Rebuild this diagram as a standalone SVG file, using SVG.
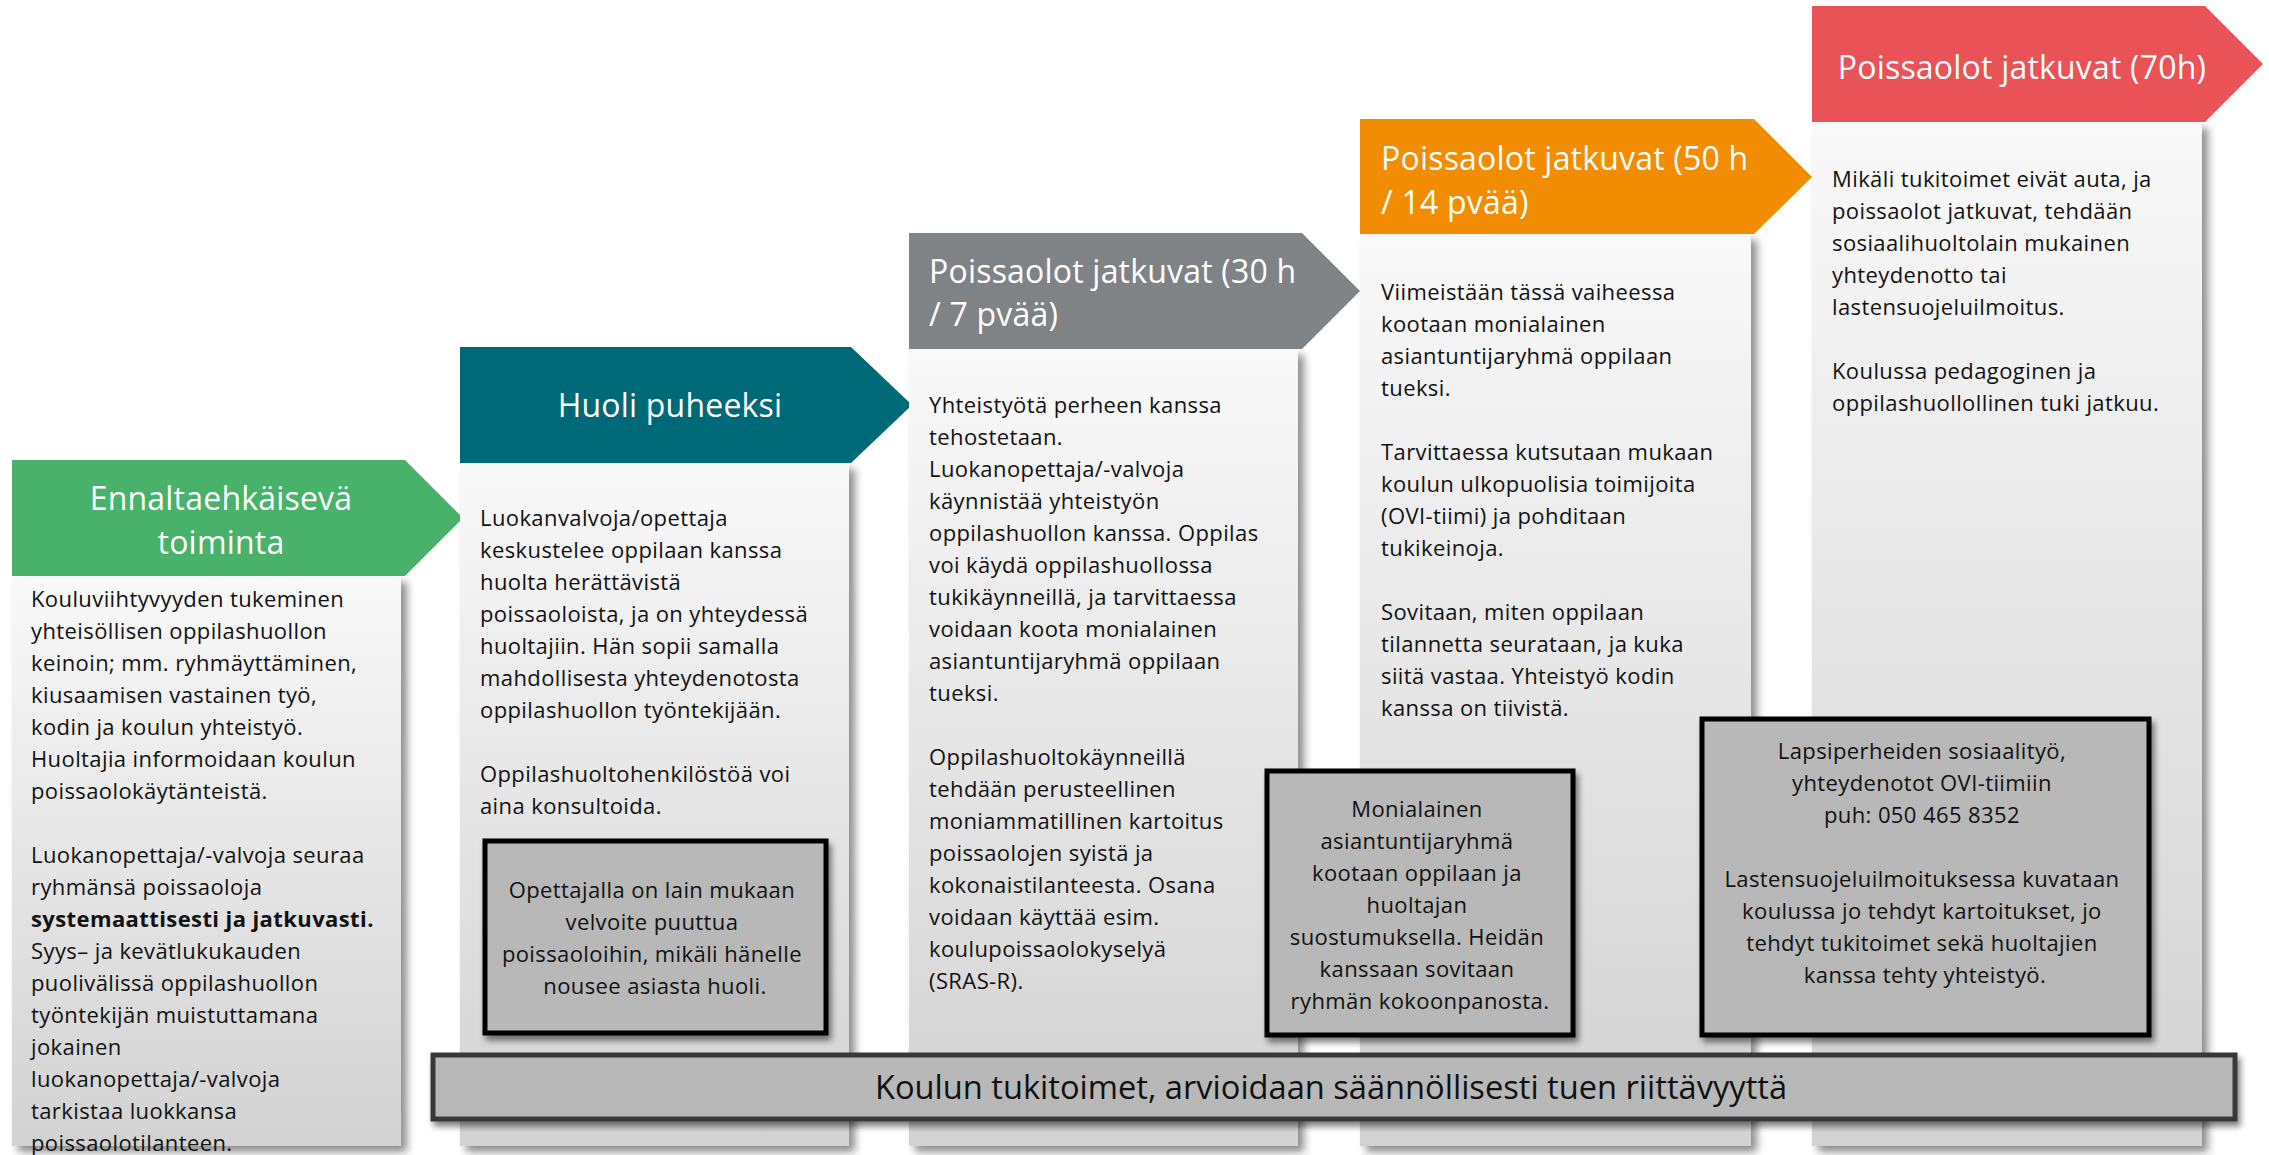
<svg xmlns="http://www.w3.org/2000/svg" width="2269" height="1155" viewBox="0 0 2269 1155">
<defs>
<linearGradient id="bodyGrad" x1="0" y1="0" x2="0" y2="1">
<stop offset="0" stop-color="#f9f9f9"/>
<stop offset="1" stop-color="#d2d2d2"/>
</linearGradient>
<filter id="sh" x="-10%" y="-5%" width="125%" height="115%">
<feGaussianBlur in="SourceAlpha" stdDeviation="4"/>
<feOffset dx="6" dy="6" result="b"/>
<feComponentTransfer><feFuncA type="linear" slope="0.45"/></feComponentTransfer>
<feMerge><feMergeNode/><feMergeNode in="SourceGraphic"/></feMerge>
</filter>
<filter id="sh2" x="-10%" y="-10%" width="125%" height="130%">
<feGaussianBlur in="SourceAlpha" stdDeviation="3"/>
<feOffset dx="3" dy="5" result="b"/>
<feComponentTransfer><feFuncA type="linear" slope="0.5"/></feComponentTransfer>
<feMerge><feMergeNode/><feMergeNode in="SourceGraphic"/></feMerge>
</filter>
</defs>
<style>
.body{fill:url(#bodyGrad);filter:url(#sh)}
.hd{font-family:"Open Sans","DejaVu Sans",sans-serif;font-size:32px;letter-spacing:0.2px;fill:#ffffff}
.tx{font-family:"Open Sans","DejaVu Sans",sans-serif;font-size:22px;letter-spacing:0.4px;fill:#111111}
.bx{fill:#b8b8b8;stroke:#000000;stroke-width:5;filter:url(#sh2)}
.c{text-anchor:middle}
.b{font-weight:bold}
</style>
<rect width="2269" height="1155" fill="#ffffff"/>

<g id="node-ennalta">
<rect class="body" x="12" y="576" width="389" height="570"/>
<polygon points="12,460 405,460 463,518 405,576 12,576" fill="#48b26b"/>
<text class="hd c" x="221" y="510">Ennaltaehkäisevä</text>
<text class="hd c" x="221" y="554">toiminta</text>
<text class="tx" x="31">
<tspan x="31" y="607">Kouluviihtyvyyden tukeminen</tspan>
<tspan x="31" y="639">yhteisöllisen oppilashuollon</tspan>
<tspan x="31" y="671">keinoin; mm. ryhmäyttäminen,</tspan>
<tspan x="31" y="703">kiusaamisen vastainen työ,</tspan>
<tspan x="31" y="735">kodin ja koulun yhteistyö.</tspan>
<tspan x="31" y="767">Huoltajia informoidaan koulun</tspan>
<tspan x="31" y="799">poissaolokäytänteistä.</tspan>
<tspan x="31" y="863">Luokanopettaja/-valvoja seuraa</tspan>
<tspan x="31" y="895">ryhmänsä poissaoloja</tspan>
<tspan x="31" y="927" class="b">systemaattisesti ja jatkuvasti.</tspan>
<tspan x="31" y="959">Syys– ja kevätlukukauden</tspan>
<tspan x="31" y="991">puolivälissä oppilashuollon</tspan>
<tspan x="31" y="1023">työntekijän muistuttamana</tspan>
<tspan x="31" y="1055">jokainen</tspan>
<tspan x="31" y="1087">luokanopettaja/-valvoja</tspan>
<tspan x="31" y="1119">tarkistaa luokkansa</tspan>
<tspan x="31" y="1151">poissaolotilanteen.</tspan>
</text>
</g>

<g id="node-huoli">
<rect class="body" x="460" y="463" width="389" height="683"/>
<polygon points="460,347 851,347 912,405 851,463 460,463" fill="#006978"/>
<text class="hd c" x="670" y="417">Huoli puheeksi</text>
<text class="tx">
<tspan x="480" y="526">Luokanvalvoja/opettaja</tspan>
<tspan x="480" y="558">keskustelee oppilaan kanssa</tspan>
<tspan x="480" y="590">huolta herättävistä</tspan>
<tspan x="480" y="622">poissaoloista, ja on yhteydessä</tspan>
<tspan x="480" y="654">huoltajiin. Hän sopii samalla</tspan>
<tspan x="480" y="686">mahdollisesta yhteydenotosta</tspan>
<tspan x="480" y="718">oppilashuollon työntekijään.</tspan>
<tspan x="480" y="782">Oppilashuoltohenkilöstöä voi</tspan>
<tspan x="480" y="814">aina konsultoida.</tspan>
</text>
</g>

<g id="node-30h">
<rect class="body" x="909" y="349" width="389" height="797"/>
<polygon points="909,233 1302,233 1360,291 1302,349 909,349" fill="#7f8386"/>
<text class="hd" x="929" y="283">Poissaolot jatkuvat (30 h</text>
<text class="hd" x="929" y="326">/ 7 pvää)</text>
<text class="tx">
<tspan x="929" y="413">Yhteistyötä perheen kanssa</tspan>
<tspan x="929" y="445">tehostetaan.</tspan>
<tspan x="929" y="477">Luokanopettaja/-valvoja</tspan>
<tspan x="929" y="509">käynnistää yhteistyön</tspan>
<tspan x="929" y="541">oppilashuollon kanssa. Oppilas</tspan>
<tspan x="929" y="573">voi käydä oppilashuollossa</tspan>
<tspan x="929" y="605">tukikäynneillä, ja tarvittaessa</tspan>
<tspan x="929" y="637">voidaan koota monialainen</tspan>
<tspan x="929" y="669">asiantuntijaryhmä oppilaan</tspan>
<tspan x="929" y="701">tueksi.</tspan>
<tspan x="929" y="765">Oppilashuoltokäynneillä</tspan>
<tspan x="929" y="797">tehdään perusteellinen</tspan>
<tspan x="929" y="829">moniammatillinen kartoitus</tspan>
<tspan x="929" y="861">poissaolojen syistä ja</tspan>
<tspan x="929" y="893">kokonaistilanteesta. Osana</tspan>
<tspan x="929" y="925">voidaan käyttää esim.</tspan>
<tspan x="929" y="957">koulupoissaolokyselyä</tspan>
<tspan x="929" y="989">(SRAS-R).</tspan>
</text>
</g>

<g id="node-50h">
<rect class="body" x="1360" y="234" width="391" height="912"/>
<polygon points="1360,119 1754,119 1812,177 1754,234 1360,234" fill="#f28c00"/>
<text class="hd" x="1381" y="170">Poissaolot jatkuvat (50 h</text>
<text class="hd" x="1381" y="214">/ 14 pvää)</text>
<text class="tx">
<tspan x="1381" y="300">Viimeistään tässä vaiheessa</tspan>
<tspan x="1381" y="332">kootaan monialainen</tspan>
<tspan x="1381" y="364">asiantuntijaryhmä oppilaan</tspan>
<tspan x="1381" y="396">tueksi.</tspan>
<tspan x="1381" y="460">Tarvittaessa kutsutaan mukaan</tspan>
<tspan x="1381" y="492">koulun ulkopuolisia toimijoita</tspan>
<tspan x="1381" y="524">(OVI-tiimi) ja pohditaan</tspan>
<tspan x="1381" y="556">tukikeinoja.</tspan>
<tspan x="1381" y="620">Sovitaan, miten oppilaan</tspan>
<tspan x="1381" y="652">tilannetta seurataan, ja kuka</tspan>
<tspan x="1381" y="684">siitä vastaa. Yhteistyö kodin</tspan>
<tspan x="1381" y="716">kanssa on tiivistä.</tspan>
</text>
</g>

<g id="node-70h">
<rect class="body" x="1812" y="122" width="390" height="1024"/>
<polygon points="1812,6 2205,6 2263,64 2205,122 1812,122" fill="#e95257"/>
<text class="hd c" x="2022" y="79">Poissaolot jatkuvat (70h)</text>
<text class="tx">
<tspan x="1832" y="187">Mikäli tukitoimet eivät auta, ja</tspan>
<tspan x="1832" y="219">poissaolot jatkuvat, tehdään</tspan>
<tspan x="1832" y="251">sosiaalihuoltolain mukainen</tspan>
<tspan x="1832" y="283">yhteydenotto tai</tspan>
<tspan x="1832" y="315">lastensuojeluilmoitus.</tspan>
<tspan x="1832" y="379">Koulussa pedagoginen ja</tspan>
<tspan x="1832" y="411">oppilashuollollinen tuki jatkuu.</tspan>
</text>
</g>

<g id="node-box-opettaja">
<rect class="bx" x="485" y="841" width="341" height="192"/>
<text class="tx c">
<tspan x="655" y="898">Opettajalla on lain mukaan</tspan>
<tspan x="655" y="930">velvoite puuttua</tspan>
<tspan x="655" y="962">poissaoloihin, mikäli hänelle</tspan>
<tspan x="655" y="994">nousee asiasta huoli.</tspan>
</text>
</g>

<g id="node-box-monialainen">
<rect class="bx" x="1267" y="771" width="306" height="264"/>
<text class="tx c">
<tspan x="1420" y="817">Monialainen</tspan>
<tspan x="1420" y="849">asiantuntijaryhmä</tspan>
<tspan x="1420" y="881">kootaan oppilaan ja</tspan>
<tspan x="1420" y="913">huoltajan</tspan>
<tspan x="1420" y="945">suostumuksella. Heidän</tspan>
<tspan x="1420" y="977">kanssaan sovitaan</tspan>
<tspan x="1420" y="1009">ryhmän kokoonpanosta.</tspan>
</text>
</g>

<g id="node-box-lapsiperheet">
<rect class="bx" x="1702" y="719" width="447" height="316"/>
<text class="tx c">
<tspan x="1925" y="759">Lapsiperheiden sosiaalityö,</tspan>
<tspan x="1925" y="791">yhteydenotot OVI-tiimiin</tspan>
<tspan x="1925" y="823">puh: 050 465 8352</tspan>
<tspan x="1925" y="887">Lastensuojeluilmoituksessa kuvataan</tspan>
<tspan x="1925" y="919">koulussa jo tehdyt kartoitukset, jo</tspan>
<tspan x="1925" y="951">tehdyt tukitoimet sekä huoltajien</tspan>
<tspan x="1925" y="983">kanssa tehty yhteistyö.</tspan>
</text>
</g>

<g id="node-bar">
<rect x="433" y="1055" width="1802" height="64" fill="#b8b8b8" stroke="#383838" stroke-width="5" filter="url(#sh2)"/>
<text x="1331" y="1099" text-anchor="middle" font-family="'Open Sans','DejaVu Sans',sans-serif" font-size="32" fill="#111111" textLength="912" lengthAdjust="spacingAndGlyphs">Koulun tukitoimet, arvioidaan säännöllisesti tuen riittävyyttä</text>
</g>

<g id="connectors"></g>
</svg>
